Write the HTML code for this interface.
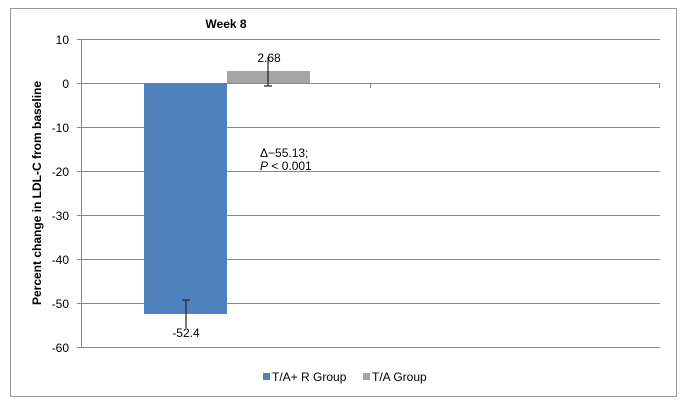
<!DOCTYPE html>
<html><head><style>body{margin:0;background:#fff}</style></head><body>
<svg width="682" height="405" xmlns="http://www.w3.org/2000/svg" font-family="Liberation Sans, sans-serif">
<rect x="10.5" y="8.5" width="666" height="388" fill="#fff" stroke="#999"/>
<g stroke="#888" stroke-width="1">
<line x1="81" y1="39.5" x2="660" y2="39.5"/>
<line x1="81" y1="127.5" x2="660" y2="127.5"/>
<line x1="81" y1="171.5" x2="660" y2="171.5"/>
<line x1="81" y1="215.5" x2="660" y2="215.5"/>
<line x1="81" y1="259.5" x2="660" y2="259.5"/>
<line x1="81" y1="303.5" x2="660" y2="303.5"/>
<line x1="81" y1="347.5" x2="660" y2="347.5"/>
<line x1="81" y1="83.5" x2="660" y2="83.5"/>
<line x1="81.5" y1="39" x2="81.5" y2="347"/>
<line x1="370.5" y1="83" x2="370.5" y2="88"/>
<line x1="659.5" y1="83" x2="659.5" y2="88"/>
</g>
<g stroke="#888"><line x1="77" y1="39.5" x2="81" y2="39.5"/><line x1="77" y1="83.5" x2="81" y2="83.5"/><line x1="77" y1="127.5" x2="81" y2="127.5"/><line x1="77" y1="171.5" x2="81" y2="171.5"/><line x1="77" y1="215.5" x2="81" y2="215.5"/><line x1="77" y1="259.5" x2="81" y2="259.5"/><line x1="77" y1="303.5" x2="81" y2="303.5"/><line x1="77" y1="347.5" x2="81" y2="347.5"/></g>
<rect x="144" y="83" width="83" height="231" fill="#4f81bd"/>
<rect x="227" y="71" width="83" height="12" fill="#a5a5a5"/>
<g stroke="#222" stroke-width="1.2">
<line x1="268" y1="57" x2="268" y2="86"/><line x1="264" y1="86" x2="272" y2="86"/>
<line x1="186" y1="300" x2="186" y2="328"/><line x1="182" y1="300" x2="190" y2="300"/>
</g>
<g font-size="12" fill="#000" text-anchor="end">
<text x="69" y="44">10</text><text x="69" y="88">0</text><text x="69" y="132">-10</text><text x="69" y="176">-20</text><text x="69" y="220">-30</text><text x="69" y="264">-40</text><text x="69" y="308">-50</text><text x="69" y="352">-60</text>
</g>
<text x="226" y="28" font-size="12" font-weight="bold" text-anchor="middle">Week 8</text>
<text transform="translate(41,193) rotate(-90)" font-size="12" font-weight="bold" text-anchor="middle">Percent change in LDL-C from baseline</text>
<text x="269" y="62" font-size="12" text-anchor="middle">2.68</text>
<text x="186" y="337" font-size="12" text-anchor="middle">-52.4</text>
<text x="260" y="157" font-size="12">Δ−55.13;</text>
<text x="260" y="170" font-size="12"><tspan font-style="italic">P</tspan> &lt; 0.001</text>
<rect x="263" y="373" width="7" height="7" fill="#4f81bd"/>
<text x="272" y="381" font-size="12">T/A+ R Group</text>
<rect x="363" y="373" width="7" height="7" fill="#a5a5a5"/>
<text x="372" y="381" font-size="12">T/A Group</text>
</svg>
</body></html>
